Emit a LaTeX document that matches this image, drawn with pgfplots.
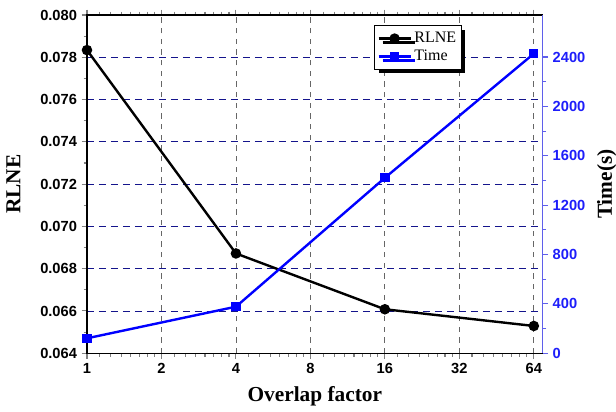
\documentclass[border=0pt]{standalone}
\usepackage{pgfplots}
\pgfplotsset{compat=1.18}
\usepackage{fontspec}
\setmainfont{Liberation Serif}
\setsansfont{Liberation Sans}
\usetikzlibrary{shadows}
\definecolor{tblue}{RGB}{0,0,255}
\definecolor{lblue}{RGB}{30,30,250}
\definecolor{axblue}{RGB}{95,95,235}
\definecolor{gridnavy}{RGB}{20,20,140}
\begin{document}
\begin{tikzpicture}
\useasboundingbox (-65.25pt,-44pt) rectangle (396.8pt,264.95pt);
\begin{axis}[width=341.8pt,height=253.7pt,scale only axis,
  xmode=log, xmin=1, xmax=69.5,
  tick label style={font=\sffamily\bfseries\fontsize{11}{13}\selectfont},
  /pgf/number format/assume math mode=true,
  label style={font=\bfseries\fontsize{16}{18}\selectfont},
  axis line style={line width=1pt},
  tick style={line width=0.8pt},
  major tick length=4pt, minor tick length=2.5pt,
  tick align=outside,
  ymin=0.064, ymax=0.080,
  ytick={0.064,0.066,0.068,0.070,0.072,0.074,0.076,0.078,0.080},
  minor y tick num=1,
  yticklabel style={/pgf/number format/.cd,fixed,fixed zerofill,precision=3},
  scaled y ticks=false,
  xtick={1,2,4,8,16,32,64}, xticklabels={1,2,4,8,16,32,64},
  minor xtick={1.125,1.25,1.375,1.5,1.625,1.75,1.875,
    2.25,2.5,2.75,3,3.25,3.5,3.75,
    4.5,5,5.5,6,6.5,7,7.5,
    9,10,11,12,13,14,15,
    18,20,22,24,26,28,30,
    36,40,44,48,52,56,60},
  xmajorgrids, ymajorgrids,
  x grid style={black!60, dash pattern=on 4pt off 4pt, line width=0.6pt},
  y grid style={gridnavy, dash pattern=on 5pt off 4pt, line width=0.6pt},
  ytick pos=left,
  xlabel={Overlap factor}, ylabel={RLNE},
  xlabel shift=3pt, ylabel shift=8pt,
  legend cell align=left,
  legend style={at={(0.823,0.97)}, anchor=north east,
    font=\fontsize{12}{14}\selectfont, draw=black, line width=0.8pt,
    fill=white, inner xsep=2pt, inner ysep=3pt, row sep=0pt,
    drop shadow={fill=black, opacity=1, shadow xshift=3pt, shadow yshift=-3pt}},
  legend image code/.code={\draw[mark repeat=2,mark phase=2] plot coordinates {(0.66cm,0cm)(1.08cm,0cm)(1.5cm,0cm)};},
]
\addplot[black, line width=1.8pt, mark=*, mark size=3pt] coordinates {(1,0.07834)(4,0.06872)(16,0.06608)(64,0.06529)};
\addlegendentry{RLNE}
\addlegendimage{tblue, line width=1.8pt, mark=square*, mark size=2.6pt}
\addlegendentry{Time}
\end{axis}
\begin{axis}[width=341.8pt,height=253.7pt,scale only axis,
  xmode=log, xmin=1, xmax=69.5,
  tick label style={font=\sffamily\bfseries\fontsize{11}{13}\selectfont},
  /pgf/number format/assume math mode=true,
  /pgf/number format/1000 sep={},
  label style={font=\bfseries\fontsize{16}{18}\selectfont},
  axis line style={line width=1pt},
  tick style={line width=0.8pt},
  major tick length=4pt, minor tick length=2.5pt,
  tick align=outside,
  axis x line=none, axis y line*=right,
  ymin=0, ymax=2740,
  ytick={0,400,800,1200,1600,2000,2400},
  minor y tick num=1,
  y axis line style={axblue, line width=1pt},
  y tick style={axblue},
  yticklabel style={lblue},
  ylabel={Time(s)}, ylabel shift=2pt,
]
\addplot[tblue, line width=1.8pt, mark=square*, mark size=2.6pt] coordinates {(1,121)(4,377)(16,1421)(64,2427)};
\end{axis}
\end{tikzpicture}
\end{document}
